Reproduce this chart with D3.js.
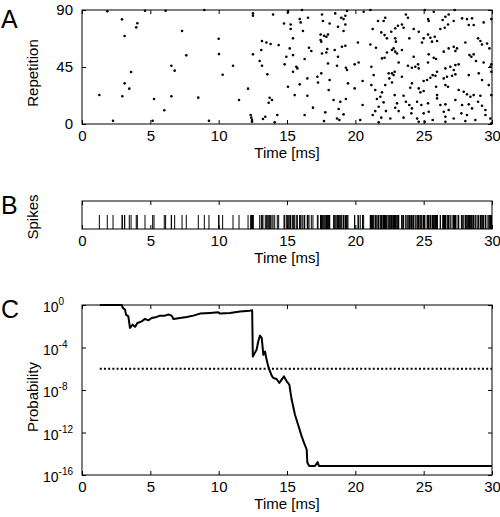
<!DOCTYPE html>
<html>
<head>
<meta charset="utf-8">
<script src="https://cdn.jsdelivr.net/npm/d3@7"></script>
<style>
  html, body { margin: 0; padding: 0; background: #fff; }
  svg text { font-family: "Liberation Sans", Arial, Helvetica, sans-serif; fill: #000; }
</style>
</head>
<body>
<svg id="chart" width="500" height="517"></svg>
<script>
// ---------------- DATA ----------------
const timeTicks = [0, 5, 10, 15, 20, 25, 30];
const repTicks = [0, 45, 90];
const probTickExponents = [0, -4, -8, -12, -16];
const thresholdExponent = -6;

// Panel A raster: [time (ms), repetition]
const spikes = [
  [1.85,89],[2.93,82.6],[4.05,79.5],[3.97,76.3],[3.12,69.5],[4.61,89.4],[6.12,89.4],[8.95,90],
  [7.32,73.4],[10.0,67.3],[7.63,54.2],[10.02,55.2],[6.54,46.0],[6.78,42.1],[11.05,46],[3.59,41],
  [10.29,38.9],[3.12,32.1],[3.46,27.9],[12.15,27.9],[1.27,22.9],[2.95,21.9],[6.54,21.9],[8.51,20.8],
  [5.27,19.7],[11.49,18.9],[6.02,10.8],[2.27,2.6],[5.17,2.6],[9.29,2.6],
  // 12.3 - 18.3 ms
  [12.51,87.3],[12.51,85.5],[13.98,86.5],[15.07,89.2],[15.07,88.1],[16.1,90],[17.56,86.5],
  [14.78,79.4],[15.27,78.6],[15.27,75],[15.93,82.9],[16.0,80.2],[16.54,83.9],[17.63,81.3],[18.12,79.4],
  [16.17,73.4],[17.46,70.7],[17.71,69.7],[17.88,68.9],[18.0,70.7],[17.46,66.3],[17.51,65],[15.44,67.6],
  [13.17,65.5],[13.49,64.4],[13.8,63.1],[14.39,62.3],[15.2,59.7],[16.61,60.2],[16.78,57.6],[17.95,59.2],
  [17.56,55.7],[17.88,56.5],[12.51,55],[13.12,58.4],[14.95,53.1],[15.44,54.4],[16.29,51.3],[13.0,49.7],
  [13.17,46],[14.83,47.1],[15.68,45.2],[15.76,43.9],[15.44,41.3],[18.0,47.8],[13.56,39.2],[16.49,36],
  [17.22,37.3],[17.51,40],[17.27,32.8],[18.12,34.7],[15.07,29.4],[15.93,31.3],[15.56,22.8],[16.49,22.3],
  [18.05,26.8],[13.73,20.7],[13.9,18.9],[13.66,16.8],[16.9,12.9],[17.8,9.2],[12.34,7.1],[12.39,5],
  [12.44,3.1],[12.44,1.8],[13.24,3.9],[13.41,5.7],[14.29,7.1],[16.29,7.1],[17.71,2.3],[14.1,1.3],
  // 18.3 - 24.2 ms
  [18.53,87.3],[18.97,83.9],[19.14,82.8],[19.27,85.5],[19.39,89.2],[18.73,76.8],[19.27,78.6],[19.14,73.4],
  [20.61,88.6],[21.1,90],[21.66,81.3],[22.07,81.3],[22.19,83.9],[21.27,75],[21.9,72.3],[22.14,70.2],
  [22.31,67.6],[22.63,72.8],[22.92,75.5],[23.12,77.6],[23.41,78.6],[23.53,76],[23.7,86.5],[23.85,83.9],
  [24.27,75],[23.95,67.6],[22.92,67.6],[22.97,65],[20.19,64.4],[21.1,62.8],[21.51,60.2],[19.27,61.8],
  [19.02,61],[18.49,58.4],[22.68,58.4],[22.8,59.7],[22.92,57.1],[23.05,55.7],[23.41,58.4],[22.31,56.5],
  [18.73,53.1],[21.95,51.8],[22.14,52.3],[18.66,46],[19.31,44.4],[19.39,42.6],[19.95,47.1],[20.24,48.6],
  [21.17,45.2],[23.17,48.6],[23.85,46],[24.14,44.4],[22.44,40],[22.68,40],[22.88,41.3],[22.8,38.6],
  [22.49,36],[21.34,38.6],[23.41,37.3],[19.46,32.1],[20.53,33.9],[21.17,30.7],[22.19,30.7],[24.14,32.1],
  [22.68,32.8],[19.95,28.1],[21.46,26.8],[21.95,25],[21.83,21.5],[22.88,22.8],[24.02,28.6],[18.41,18.9],
  [18.9,17.6],[19.31,19.7],[21.58,19.7],[22.07,17.1],[23.05,16.3],[23.53,22.3],[23.7,17.6],[18.78,11.8],
  [20.53,15],[21.71,13.6],[22.92,12.8],[23.95,15],[24.14,12.3],[18.66,4.4],[19.14,7.6],[18.83,3.1],
  [21.46,10.2],[22.24,10.2],[23.17,10.2],[21.9,5],[22.56,4.4],[21.27,7.1],[20.36,3.1],[24.1,8.4],
  [23.53,5],[21.71,1.3],
  // 24.2 - 30 ms
  [25.08,90],[25.74,88.6],[25.32,82.8],[25.37,81.3],[26.39,82.1],[26.59,84.7],[26.83,86.5],[27.27,90],
  [26.78,78.6],[26.54,76],[26.22,75],[27.2,81.3],[27.81,83.4],[28.17,82.8],[28.54,83.4],[28.3,78.1],
  [28.66,78.1],[29.39,80.2],[29.95,82.8],[24.64,72.8],[25.32,70.7],[25.49,68.1],[25.81,68.9],[25.98,65.5],
  [25.61,65],[25.0,67.6],[24.88,64.4],[26.83,59.7],[27.2,61],[27.44,59.7],[27.32,57.6],[28.05,64.4],
  [28.98,67.6],[29.15,65.5],[29.27,62.8],[29.64,63.6],[29.81,59.7],[26.47,57.1],[24.27,53.1],[25.37,55],
  [25.74,52.3],[25.91,51.3],[25.32,48.6],[24.59,47.1],[24.39,45.2],[24.64,43.9],[26.59,43.9],[26.95,45.2],
  [27.32,46.5],[27.56,47.1],[28.35,54.4],[28.49,53.1],[28.66,55],[28.83,49.7],[29.39,48.6],[29.88,45.2],
  [29.95,47.1],[27.2,42.6],[25.98,41.3],[25.66,38.6],[25.86,38.1],[25.0,33.9],[25.25,34.7],[25.49,36.5],
  [26.47,36],[26.71,37.3],[27.08,38.1],[27.32,39.2],[28.3,38.6],[29.03,40],[29.27,34.7],[29.76,30.7],
  [29.95,41.3],[24.64,28.1],[24.76,25],[25.0,26],[25.91,29.4],[26.59,30.7],[26.78,29.4],[27.56,26.8],
  [27.93,25.5],[28.17,23.4],[28.42,21.5],[28.66,22.8],[29.15,22.3],[29.95,22.8],[24.52,17.6],[24.83,15],
  [25.32,16.3],[25.98,22.8],[25.98,20.2],[26.22,15],[26.59,15.5],[27.32,18.9],[27.81,15],[28.3,15.5],
  [28.54,12.3],[28.98,17.6],[29.27,14.4],[29.52,11],[24.52,4.4],[24.64,1.8],[25.0,8.4],[25.37,9.7],
  [25.66,3.1],[26.47,9.7],[26.59,5.7],[26.59,1.8],[27.2,4.4],[27.76,8.4],[28.05,2.3],[28.78,3.1],
  [29.52,7.1],[29.88,4.4],[29.95,0.5],[25.08,1.8],[26.83,11],[28.17,7.1]
];

// Panel C: time (ms) and log10 of probability
const probTime = [1.3,2.9,3.0,3.15,3.22,3.39,3.51,3.71,3.88,4.05,4.37,4.61,4.85,5.1,5.47,5.71,6.07,6.32,6.56,6.69,
  7.17,7.66,8.15,8.63,9.37,9.97,10.1,10.83,11.56,12.29,12.45,12.5,12.78,12.9,13.02,13.15,13.27,13.39,13.51,13.63,
  13.76,13.88,14.0,14.24,14.44,14.61,14.78,14.98,15.17,15.34,15.58,15.83,16.07,16.24,16.44,16.49,16.63,17.05,17.24,17.34,30];
const probExponent = [0,0,-0.28,-0.44,-0.91,-1.07,-2.16,-1.85,-2.06,-1.69,-1.54,-1.31,-1.44,-1.22,-1.12,-1.0,-1.0,-0.9,-1.0,-1.31,
  -1.22,-1.12,-1.0,-0.81,-0.75,-0.69,-0.81,-0.75,-0.62,-0.53,-0.5,-4.84,-4.19,-3.41,-2.88,-3.1,-4.69,-4.38,-5.16,-5.78,
  -6.25,-6.65,-6.87,-6.96,-7.34,-7.03,-6.72,-7.19,-7.5,-8.9,-10.3,-11.34,-12.34,-12.96,-13.6,-14.84,-15.16,-15.16,-14.78,-15.16,-15.16];
const thresholdRange = [1.3, 30];

// ---------------- DRAW ----------------
const svg = d3.select("#chart");
const L = 82, R = 492, TICK = 4, FS = 15;
const x = d3.scaleLinear().domain([0, 30]).range([L, R]);

function boxAxes(g, yScale, top, bottom, yTicks, yFormat) {
  g.append("g").attr("transform", `translate(0,${bottom})`)
    .call(d3.axisBottom(x).tickValues(timeTicks).tickSizeInner(-TICK).tickSizeOuter(0).tickPadding(6))
    .call(a => a.selectAll("text").attr("font-size", FS));
  g.append("g").attr("transform", `translate(0,${top})`)
    .call(d3.axisTop(x).tickValues(timeTicks).tickSizeInner(-TICK).tickSizeOuter(0).tickFormat(""));
  if (yScale) {
    g.append("g").attr("transform", `translate(${L},0)`)
      .call(d3.axisLeft(yScale).tickValues(yTicks).tickSizeInner(-TICK).tickSizeOuter(0).tickFormat(yFormat || "").tickPadding(9))
      .call(a => a.selectAll("text").attr("font-size", FS));
    g.append("g").attr("transform", `translate(${R},0)`)
      .call(d3.axisRight(yScale).tickValues(yTicks).tickSizeInner(-TICK).tickSizeOuter(0).tickFormat(""));
  }
  g.selectAll(".domain").remove();
  g.append("rect").attr("x", L).attr("y", top).attr("width", R - L).attr("height", bottom - top)
    .attr("fill", "none").attr("stroke", "#000").attr("stroke-width", 1);
  g.selectAll(".tick line").attr("stroke", "#000");
  g.append("text").attr("x", (L + R) / 2).attr("y", bottom + 34).attr("text-anchor", "middle")
    .attr("font-size", FS).text("Time [ms]");
}

function panelLetter(txt, yBase) {
  svg.append("text").attr("x", 1).attr("y", yBase).attr("font-size", 25).text(txt);
}
function yTitle(txt, cy) {
  svg.append("text").attr("transform", `translate(38,${cy}) rotate(-90)`)
    .attr("text-anchor", "middle").attr("font-size", FS).text(txt);
}

// Panel A
const aTop = 10, aBot = 124;
const yA = d3.scaleLinear().domain([0, 90]).range([aBot, aTop]);
const gA = svg.append("g");
gA.append("g").selectAll("circle").data(spikes).join("circle")
  .attr("cx", d => x(d[0])).attr("cy", d => yA(d[1])).attr("r", 1.3).attr("fill", "#000");
boxAxes(gA, yA, aTop, aBot, repTicks, d3.format("d"));
panelLetter("A", 28);
yTitle("Repetition", 73);

// Panel B
const bTop = 201, bBot = 229;
const yB = d3.scaleLinear().domain([0, 2]).range([bBot, bTop]);
const gB = svg.append("g");
gB.append("g").selectAll("line").data(spikes).join("line")
  .attr("x1", d => x(d[0])).attr("x2", d => x(d[0]))
  .attr("y1", yB(0)).attr("y2", yB(1)).attr("stroke", "#000").attr("stroke-width", 1);
boxAxes(gB, null, bTop, bBot);
panelLetter("B", 214);
yTitle("Spikes", 217);

// Panel C
const cTop = 305, cBot = 475;
const yC = d3.scaleLog().domain([1e-16, 1]).range([cBot, cTop]);
const gC = svg.append("g");
const probData = probTime.map((t, i) => [t, Math.pow(10, probExponent[i])]);
gC.append("line").attr("x1", x(thresholdRange[0])).attr("x2", x(thresholdRange[1]))
  .attr("y1", yC(Math.pow(10, thresholdExponent))).attr("y2", yC(Math.pow(10, thresholdExponent)))
  .attr("stroke", "#000").attr("stroke-width", 2).attr("stroke-dasharray", "2,2.2");
gC.append("path").datum(probData)
  .attr("d", d3.line().x(d => x(d[0])).y(d => yC(d[1])))
  .attr("fill", "none").attr("stroke", "#000").attr("stroke-width", 2).attr("stroke-linejoin", "round");
const tickVals = probTickExponents.map(e => Math.pow(10, e));
boxAxes(gC, yC, cTop, cBot, tickVals, null);
probTickExponents.forEach(e => {
  const yy = yC(Math.pow(10, e));
  const t = gC.append("text").attr("x", 43).attr("y", yy + 7).attr("font-size", FS - 1);
  t.append("tspan").text("10");
  t.append("tspan").attr("dy", -7).attr("font-size", 10).text(String(e));
});
panelLetter("C", 318);
yTitle("Probability", 397);
</script>
</body>
</html>
